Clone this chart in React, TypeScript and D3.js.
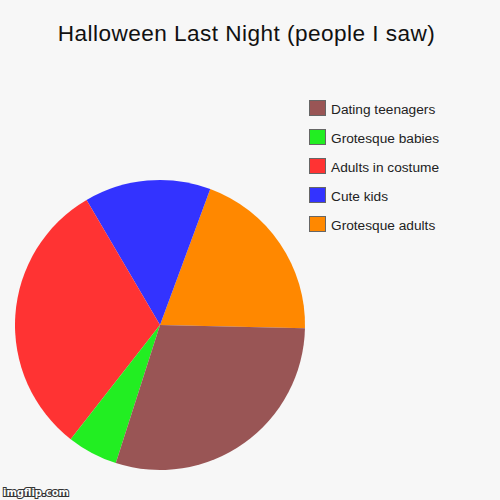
import React, { useEffect, useRef } from "react";
import * as d3 from "d3";

// data, in the order the chart draws them (counter-clockwise from 3 o'clock)
const categories = ["Grotesque adults", "Cute kids", "Adults in costume", "Grotesque babies", "Dating teenagers"];
const values = [14, 10, 22, 4, 21];
const colors = ["#ff8800", "#3333ff", "#ff3333", "#22ee22", "#995555"];

function App() {
  const svgRef = useRef<SVGSVGElement>(null);

  useEffect(() => {
    const width = 500;
    const height = 500;

    const svg = d3.select(svgRef.current)
      .attr("width", width)
      .attr("height", height)
      .style("position", "absolute")
      .style("left", 0)
      .style("top", 0)
      .style("background", "#f7f7f7");

    svg.selectAll("*").remove();

    // title
    svg.append("text")
      .attr("x", 246.5)
      .attr("y", 40.5)
      .attr("text-anchor", "middle")
      .attr("font-family", "'Liberation Sans', Arial, sans-serif")
      .attr("font-size", 22.6)
      .attr("letter-spacing", 0.45)
      .attr("fill", "#111")
      .text("Halloween Last Night (people I saw)");

    // pie goes counter clockwise, starting just under 3 o'clock
    const start = Math.PI / 2 + 0.022;
    const pie = d3.pie<number>()
      .sort(null)
      .startAngle(start)
      .endAngle(start - 2 * Math.PI);

    const arc = d3.arc<d3.PieArcDatum<number>>()
      .innerRadius(0)
      .outerRadius(145);

    const g = svg.append("g").attr("transform", "translate(160,325)");
    g.selectAll("path")
      .data(pie(values))
      .join("path")
      .attr("d", arc)
      .attr("fill", (d, i) => colors[i]);

    // legend, listed bottom up
    const legendY = d3.scalePoint<number>()
      .domain(d3.range(categories.length).reverse())
      .range([100, 216]);

    const legend = svg.append("g");
    const rows = legend.selectAll("g")
      .data(categories)
      .join("g")
      .attr("transform", (d, i) => `translate(309, ${legendY(i)})`);

    rows.append("rect")
      .attr("x", 0.5)
      .attr("y", 0.5)
      .attr("width", 16)
      .attr("height", 15)
      .attr("fill", (d, i) => colors[i])
      .attr("stroke", "#666")
      .attr("stroke-width", 1);

    rows.append("text")
      .attr("x", 22)
      .attr("y", 14)
      .attr("font-family", "'Liberation Sans', Arial, sans-serif")
      .attr("font-size", 13.7)
      .attr("fill", "#222")
      .text(d => d);

    // watermark
    svg.append("text")
      .attr("x", 3)
      .attr("y", 496)
      .attr("font-family", "'DejaVu Sans', sans-serif")
      .attr("font-size", 10)
      .attr("font-weight", "bold")
      .attr("fill", "#fff")
      .attr("stroke", "#333")
      .attr("stroke-width", 2)
      .attr("paint-order", "stroke")
      .text("imgflip.com");
  }, []);

  return (
    <div className="charts">
      <svg ref={svgRef}></svg>
    </div>
  );
}

export default App;
